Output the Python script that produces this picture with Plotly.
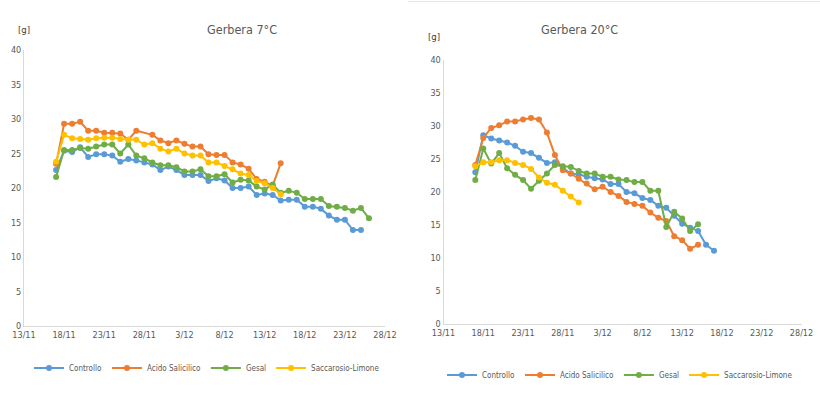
import plotly.graph_objects as go
import pandas as pd

# ---------------- data ----------------
series_names = ["Controllo", "Acido Salicilico", "Gesal", "Saccarosio-Limone"]
series_colors = ["#5B9BD5", "#ED7D31", "#70AD47", "#FFC000"]

tick_dates = ["2016-11-13", "2016-11-18", "2016-11-23", "2016-11-28", "2016-12-03",
              "2016-12-08", "2016-12-13", "2016-12-18", "2016-12-23", "2016-12-28"]
tick_labels = ["13/11", "18/11", "23/11", "28/11", "3/12", "8/12", "13/12", "18/12", "23/12", "28/12"]

# Gerbera 7°C : daily from 17/11 to 26/12
dates_7 = pd.date_range("2016-11-17", "2016-12-26", freq="D")
controllo_7 = [22.6, 25.4, 25.2, 25.9, 24.5, 24.9, 24.9, 24.7, 23.8, 24.2,
               24.0, 23.7, 23.4, 22.6, 23.1, 22.6, 21.9, 21.9, 21.9, 21.0,
               21.4, 21.1, 20.0, 20.0, 20.2, 19.0, 19.2, 19.0, 18.2, 18.3,
               18.3, 17.3, 17.3, 17.0, 16.0, 15.4, 15.4, 13.9, 13.9, None]
salicilico_7 = [23.5, 29.3, 29.3, 29.6, 28.3, 28.3, 28.0, 28.0, 27.9, 27.0,
                28.3, None, 27.7, 26.9, 26.5, 26.9, 26.4, 26.0, 26.0, 24.9,
                24.8, 24.8, 23.7, 23.4, 22.8, 21.3, 20.9, 20.3, 23.6, None,
                None, None, None, None, None, None, None, None, None, None]
gesal_7 = [21.6, 25.5, 25.5, 25.8, 25.7, 26.0, 26.3, 26.3, 25.0, 26.3,
           24.7, 24.3, 23.7, 23.3, 23.3, 23.0, 22.4, 22.4, 22.7, 21.7,
           21.7, 22.0, 20.8, 21.2, 21.1, 20.2, 19.8, 20.5, 19.3, 19.6,
           19.3, 18.4, 18.4, 18.4, 17.4, 17.3, 17.1, 16.7, 17.1, 15.6]
saccarosio_7 = [23.8, 27.7, 27.2, 27.1, 27.0, 27.2, 27.3, 27.3, 27.1, 27.0,
                27.0, 26.3, 26.5, 25.7, 25.3, 25.7, 25.0, 24.7, 24.7, 23.7,
                23.7, 23.2, 22.7, 22.1, 21.9, 21.0, 20.7, 20.0, 19.1, None,
                None, None, None, None, None, None, None, None, None, None]

# Gerbera 20°C : daily from 17/11 to 17/12
dates_20 = pd.date_range("2016-11-17", "2016-12-17", freq="D")
controllo_20 = [23.0, 28.6, 28.1, 27.8, 27.5, 27.0, 26.1, 25.9, 25.2, 24.4,
                24.5, 23.6, 22.8, 22.7, 22.3, 22.1, 21.9, 21.2, 21.2, 20.0,
                19.8, 19.1, 18.8, 17.9, 17.6, 16.4, 15.2, 14.6, 14.1, 12.0,
                11.1]
salicilico_20 = [24.1, 28.2, 29.7, 30.1, 30.7, 30.7, 31.0, 31.2, 31.0, 29.0,
                 25.6, 23.3, 22.8, 22.0, 21.3, 20.4, 20.8, 20.0, 19.4, 18.5,
                 18.2, 17.9, 16.9, 16.1, 15.6, 13.3, 12.7, 11.4, 12.0, None,
                 None]
gesal_20 = [21.8, 26.6, 24.3, 25.9, 23.6, 22.6, 21.8, 20.5, 21.7, 22.8,
            24.1, 23.9, 23.8, 23.2, 22.8, 22.8, 22.3, 22.3, 21.9, 21.8,
            21.5, 21.5, 20.2, 20.2, 14.7, 17.0, 16.0, 14.1, 15.1, None,
            None]
saccarosio_20 = [23.9, 24.5, 24.5, 24.8, 24.8, 24.4, 24.1, 23.5, 22.2, 21.4,
                 21.1, 20.2, 19.3, 18.4, None, None, None, None, None, None,
                 None, None, None, None, None, None, None, None, None, None,
                 None]

y_ticks = [0, 5, 10, 15, 20, 25, 30, 35, 40]

# ---------------- figure ----------------
W, H = 820, 395
FONT = "Liberation Sans Narrow, DejaVu Sans Condensed, Roboto, sans-serif"
GREY = "#595959"

fig = go.Figure()

panels = [
    (dates_7, [controllo_7, salicilico_7, gesal_7, saccarosio_7], "x", "y", "legend"),
    (dates_20, [controllo_20, salicilico_20, gesal_20, saccarosio_20], "x2", "y2", "legend2"),
]
for dates, vals, xa, ya, lg in panels:
    for name, col, v in zip(series_names, series_colors, vals):
        fig.add_trace(go.Scatter(
            x=dates, y=v, name=name, mode="lines+markers",
            line=dict(color=col, width=2),
            marker=dict(color=col, size=6, symbol="circle"),
            connectgaps=True, xaxis=xa, yaxis=ya, legend=lg,
        ))

def px_x(p):
    return p / W

def px_y(p):
    return 1 - p / H

axis_common = dict(
    showgrid=False, zeroline=False, showline=True, linecolor="#D9D9D9", linewidth=1,
    ticks="", tickfont=dict(family=FONT, size=9, color=GREY), automargin=False,
)

legend_common = dict(orientation="h", xanchor="center", yanchor="middle",
                     font=dict(family=FONT, size=8, color=GREY), bgcolor="rgba(0,0,0,0)",
                     itemwidth=30, tracegroupgap=0)

fig.update_layout(
    width=W, height=H, margin=dict(l=0, r=0, t=0, b=0, autoexpand=False),
    paper_bgcolor="white", plot_bgcolor="white",
    font=dict(family=FONT, color=GREY),
    xaxis=dict(domain=[px_x(24), px_x(385)], anchor="y", type="date",
               range=["2016-11-13", "2016-12-28"], tickvals=tick_dates, ticktext=tick_labels,
               **axis_common),
    yaxis=dict(domain=[px_y(326), px_y(50)], anchor="x", range=[0, 40], tickvals=y_ticks,
               **axis_common),
    xaxis2=dict(domain=[px_x(443.5), px_x(801.5)], anchor="y2", type="date",
                range=["2016-11-13", "2016-12-28"], tickvals=tick_dates, ticktext=tick_labels,
                **axis_common),
    yaxis2=dict(domain=[px_y(324), px_y(60)], anchor="x2", range=[0, 40], tickvals=y_ticks,
                **axis_common),
    legend=dict(x=px_x(207), y=px_y(368), **legend_common),
    legend2=dict(x=px_x(620), y=px_y(375), **legend_common),
    annotations=[
        dict(text="Gerbera 7°C", x=px_x(205), y=px_y(20), xref="paper", yref="paper",
             showarrow=False, font=dict(family=FONT, size=12.5, color=GREY)),
        dict(text="Gerbera 20°C", x=px_x(620), y=px_y(20), xref="paper", yref="paper",
             showarrow=False, font=dict(family=FONT, size=12.5, color=GREY)),
        dict(text="[g]", x=px_x(16), y=px_y(22), xref="paper", yref="paper",
             showarrow=False, font=dict(family=FONT, size=9.5, color="#404040")),
        dict(text="[g]", x=px_x(434), y=px_y(29), xref="paper", yref="paper",
             showarrow=False, font=dict(family=FONT, size=9.5, color="#404040")),
    ],
    shapes=[
        dict(type="line", xref="paper", yref="paper", x0=px_x(408), x1=1,
             y0=px_y(1.5), y1=px_y(1.5), line=dict(color="#E6E6E6", width=1)),
    ],
)

fig.write_html("out.html", config={"displayModeBar": False},
               post_script="document.body.style.margin='0';document.body.style.overflow='hidden';")
